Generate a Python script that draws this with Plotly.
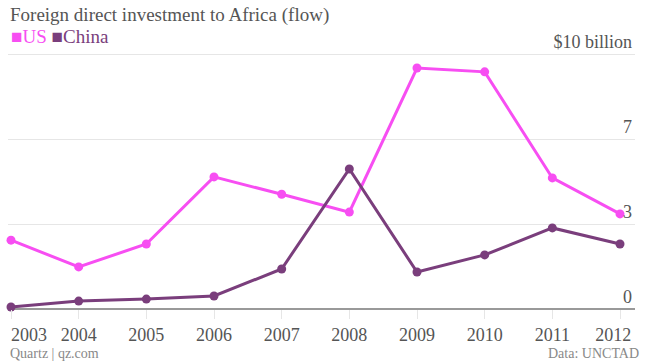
import plotly.graph_objects as go

years = [2003, 2004, 2005, 2006, 2007, 2008, 2009, 2010, 2011, 2012]
us = [2.7, 1.65, 2.55, 5.18, 4.5, 3.8, 9.45, 9.3, 5.14, 3.73]
china = [0.08, 0.31, 0.39, 0.51, 1.57, 5.49, 1.45, 2.12, 3.18, 2.55]

year_labels = [str(y) for y in years]
y_tickvals = [0, 10 / 3, 20 / 3, 10]
y_ticktext = ["0", "3", "7", "$10 billion"]

US_COLOR = "#f74ef2"
CN_COLOR = "#7a3e7c"
FONT = "Liberation Serif"
GREY = "#555555"

# plot area in pixels: x 8..635, y 54..309
PL, PR, PT, PB = 8, 635, 53, 309
W, H = 645, 363


def px(x):
    return (x - PL) / (PR - PL)


def py(y):
    return (PB - y) / (PB - PT)


# labels at the ends are nudged inward so they stay inside the plot area
tick_text = list(year_labels)
tick_text[0] = "\u00a0" * 8 + tick_text[0]
tick_text[-1] = tick_text[-1] + "\u00a0" * 3

fig = go.Figure()
fig.add_trace(go.Scatter(x=years, y=us, name="US", mode="lines+markers",
                         line=dict(color=US_COLOR, width=3),
                         marker=dict(color=US_COLOR, size=9), cliponaxis=False))
fig.add_trace(go.Scatter(x=years, y=china, name="China", mode="lines+markers",
                         line=dict(color=CN_COLOR, width=3),
                         marker=dict(color=CN_COLOR, size=9), cliponaxis=False))

fig.update_layout(
    width=W, height=H,
    margin=dict(l=PL, r=W - PR, t=PT, b=H - PB, autoexpand=False),
    paper_bgcolor="white", plot_bgcolor="white",
    showlegend=False,
    font=dict(family=FONT, color=GREY, size=18),
    title=dict(text="Foreign direct investment to Africa (flow)",
               x=10 / W, xanchor="left", xref="container",
               y=1 - 8 / H, yanchor="top", yref="container",
               font=dict(family=FONT, size=19, color=GREY)),
    xaxis=dict(range=[2003 - 3 / 67.67, 2012 + 15 / 67.67],
               tickvals=years, ticktext=tick_text,
               ticklabeloverflow="allow",
               showgrid=False, zeroline=False, showline=False,
               ticks="outside", ticklen=9, tickcolor="#e6e6e6", tickwidth=1,
               tickfont=dict(size=18, color=GREY)),
    yaxis=dict(range=[0, 10.04], side="right",
               tickvals=y_tickvals, ticktext=y_ticktext,
               ticklabelposition="inside top",
               ticklabeloverflow="allow",
               showgrid=True, gridcolor="#e6e6e6", gridwidth=1,
               zeroline=True, zerolinecolor="#999999", zerolinewidth=1.5,
               showline=False, ticks="",
               tickfont=dict(size=18, color=GREY)),
)

fig.add_annotation(text=f"<span style='color:{US_COLOR}'>■US</span> <span style='color:{CN_COLOR}'>■China</span>",
                   xref="paper", yref="paper", x=px(9), y=py(24),
                   xanchor="left", yanchor="top", showarrow=False,
                   font=dict(family=FONT, size=19))
fig.add_annotation(text="Quartz | qz.com", xref="paper", yref="paper",
                   x=px(8), y=py(363), xanchor="left", yanchor="bottom",
                   showarrow=False, font=dict(family=FONT, size=14, color="#888888"))
fig.add_annotation(text="Data: UNCTAD", xref="paper", yref="paper",
                   x=px(641), y=py(363), xanchor="right", yanchor="bottom",
                   showarrow=False, font=dict(family=FONT, size=14, color="#888888"))

fig.write_html("out.html", config={"displayModeBar": False},
               post_script="document.body.style.margin='0';")
